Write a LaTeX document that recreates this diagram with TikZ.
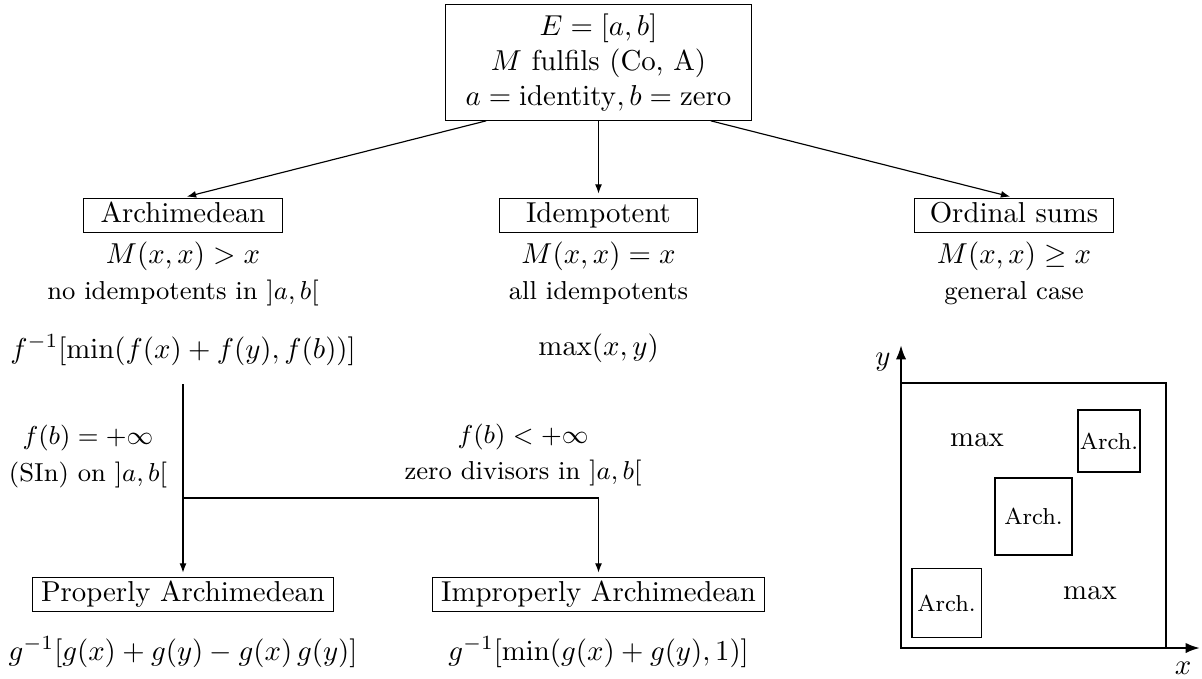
\documentclass[tikz,border=0pt]{standalone}
\usepackage{tikz}
\usetikzlibrary{arrows.meta,positioning}

\begin{document}
\begin{tikzpicture}[x=0.3472pt,y=-0.3472pt,
  box/.style={draw, minimum width=69pt, text height=7pt, text depth=2pt, inner xsep=3pt, inner ysep=1.5pt},
  arr/.style={-{Latex[length=3.2pt,width=2.4pt]}, shorten >=1.4pt},
  axis/.style={thick, -{Latex[length=5pt,width=3.6pt]}},
  note/.style={font=\small},
  archbox/.style={draw, font=\footnotesize, inner sep=0pt}]
  \useasboundingbox (0,0) rectangle (1202,678);
  % root
  \node[draw, align=center, minimum width=106pt] (top) at (598.5,62.5) {$E=[a,b]$\\ $M$ fulfils (Co, A)\\ $a=\mathrm{identity}, b=\mathrm{zero}$};
  % three classes
  \foreach \n/\x/\cls in {arch/183/Archimedean, idem/598.5/Idempotent, ord/1014/Ordinal sums}
    \node[box] (\n) at (\x,215.5) {\cls};
  \foreach \n/\x/\prop/\desc in {arch/183/{$M(x,x)>x$}/{no idempotents in $]a,b[$}, idem/598.5/{$M(x,x)=x$}/{all idempotents}, ord/1014/{$M(x,x)\geq x$}/{general case}}{
    \node (\n-p) at (\x,256) {\prop};
    \node[note] (\n-d) at (\x,293) {\desc};
  }
  \node (arch-f) at (183,350) {$f^{-1}[\min(f(x)+f(y),f(b))]$};
  \node (idem-f) at (598.5,348) {$\max(x,y)$};
  \draw[arr] ([xshift=-39pt]top.south) -- (arch.north);
  \draw[arr] (top) -- (idem);
  \draw[arr] ([xshift=39pt]top.south) -- (ord.north);
  % archimedean split
  \coordinate (split) at (183,498);
  \node[box] (proper) at (183,594.5) {Properly Archimedean};
  \node[box] (improper) at (598.5,594.5) {Improperly Archimedean};
  \node (proper-f) at (183,652) {$g^{-1}[g(x)+g(y)-g(x)\,g(y)]$};
  \node (improper-f) at (598.5,652) {$g^{-1}[\min(g(x)+g(y),1)]$};
  \draw[arr, shorten <=3pt] (arch-f) -- (proper);
  \draw[arr] (split) -| (improper);
  \node[note] (inf) at (88,438) {$f(b)=+\infty$};
  \node[note] (sin) at (88,475) {(SIn) on $]a,b[$};
  \node[note] (fin) at (523,437) {$f(b)<+\infty$};
  \node[note] (zd) at (523,473) {zero divisors in $]a,b[$};
  % ordinal sum sketch
  \coordinate (o) at (901,648);
  \draw (901,383) rectangle (1166,648);
  \draw[axis] (o) -- (901,345);
  \draw[axis] (o) -- (1200,648);
  \node (ylab) at (883,362) {$y$};
  \node (xlab) at (1183,668) {$x$};
  \foreach \n/\x/\y/\s in {a1/946.5/603/24pt, a2/1033.5/516.5/26.7pt, a3/1109/441/21.5pt}
    \node[archbox, minimum size=\s] (\n) at (\x,\y) {Arch.};
  \node (max1) at (977,440) {$\max$};
  \node (max2) at (1090,593) {$\max$};
\end{tikzpicture}
\end{document}
